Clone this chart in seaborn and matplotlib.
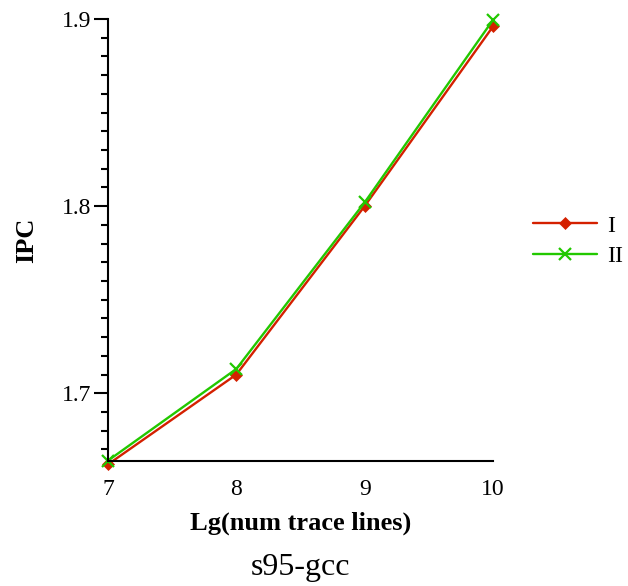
import matplotlib
matplotlib.use("Agg")
import matplotlib.pyplot as plt
from matplotlib.ticker import MultipleLocator
import seaborn as sns
import pandas as pd

x_vals = [7, 8, 9, 10]
series_I = [1.662, 1.710, 1.800, 1.896]
series_II = [1.664, 1.713, 1.802, 1.8995]
series_names = ["I", "II"]
x_label = "Lg(num trace lines)"
y_label = "IPC"
title = "s95-gcc"
y_ticks = [1.7, 1.8, 1.9]

df_I = pd.DataFrame({"x": x_vals, "y": series_I})
df_II = pd.DataFrame({"x": x_vals, "y": series_II})

sns.set_style("white")
plt.rcParams["font.family"] = ["Liberation Serif", "DejaVu Serif"]
plt.rcParams["text.color"] = "black"
plt.rcParams["axes.labelcolor"] = "black"
plt.rcParams["xtick.color"] = "black"
plt.rcParams["ytick.color"] = "black"

fig = plt.figure(figsize=(6.28, 5.86), dpi=100)
ax = fig.add_axes([108 / 628, 1 - 461 / 586, (493 - 108) / 628, (461 - 19) / 586])

red = "#d42000"
green = "#22c800"
sns.lineplot(data=df_I, x="x", y="y", color=red, marker="D",
             markersize=6.5, markeredgewidth=0.5, markeredgecolor=red,
             markerfacecolor=red, linewidth=1.7,
             label=series_names[0], ax=ax, clip_on=False)
sns.lineplot(data=df_II, x="x", y="y", color=green, marker="x",
             markersize=9, markeredgewidth=1.6, markeredgecolor=green,
             linewidth=1.7, label=series_names[1], ax=ax, clip_on=False)
for line in ax.lines:
    line.set_clip_on(False)

ax.set_xlim(7, 10)
ax.set_ylim(1.6638, 1.9)
ax.set_xticks(x_vals)
ax.set_yticks(y_ticks)
ax.yaxis.set_minor_locator(MultipleLocator(0.01))
ax.set_yticklabels([f"{t:.1f}" for t in y_ticks])

for side in ["top", "right"]:
    ax.spines[side].set_visible(False)
for side in ["left", "bottom"]:
    ax.spines[side].set_color("black")
    ax.spines[side].set_linewidth(1.5)

ax.tick_params(axis="x", which="both", length=0, pad=13, labelsize=17, colors="black")
ax.tick_params(axis="y", which="major", direction="out", length=10, width=1.5,
               pad=2, labelsize=17, left=True, colors="black")
ax.tick_params(axis="y", which="minor", direction="out", length=5, width=1.5,
               left=True, colors="black")

ax.set_xlabel(x_label, fontsize=19, fontweight="bold", labelpad=8, color="black")
ax.set_ylabel(y_label, fontsize=19, fontweight="bold", labelpad=17, color="black")

fig.text(0.5 * (108 + 493) / 628, 1 - 568 / 586, title, ha="center", va="center",
         fontsize=23, color="black")

handles, labels = ax.get_legend_handles_labels()
leg = ax.legend(handles, labels, loc="center left", bbox_to_anchor=(533 / 628, 1 - 241 / 586),
                bbox_transform=fig.transFigure, frameon=False, fontsize=17,
                handlelength=2.7, handletextpad=0.45, labelspacing=0.36, borderpad=0,
                borderaxespad=0)
for t in leg.get_texts():
    t.set_color("black")

fig.savefig("out.png", dpi=100)
